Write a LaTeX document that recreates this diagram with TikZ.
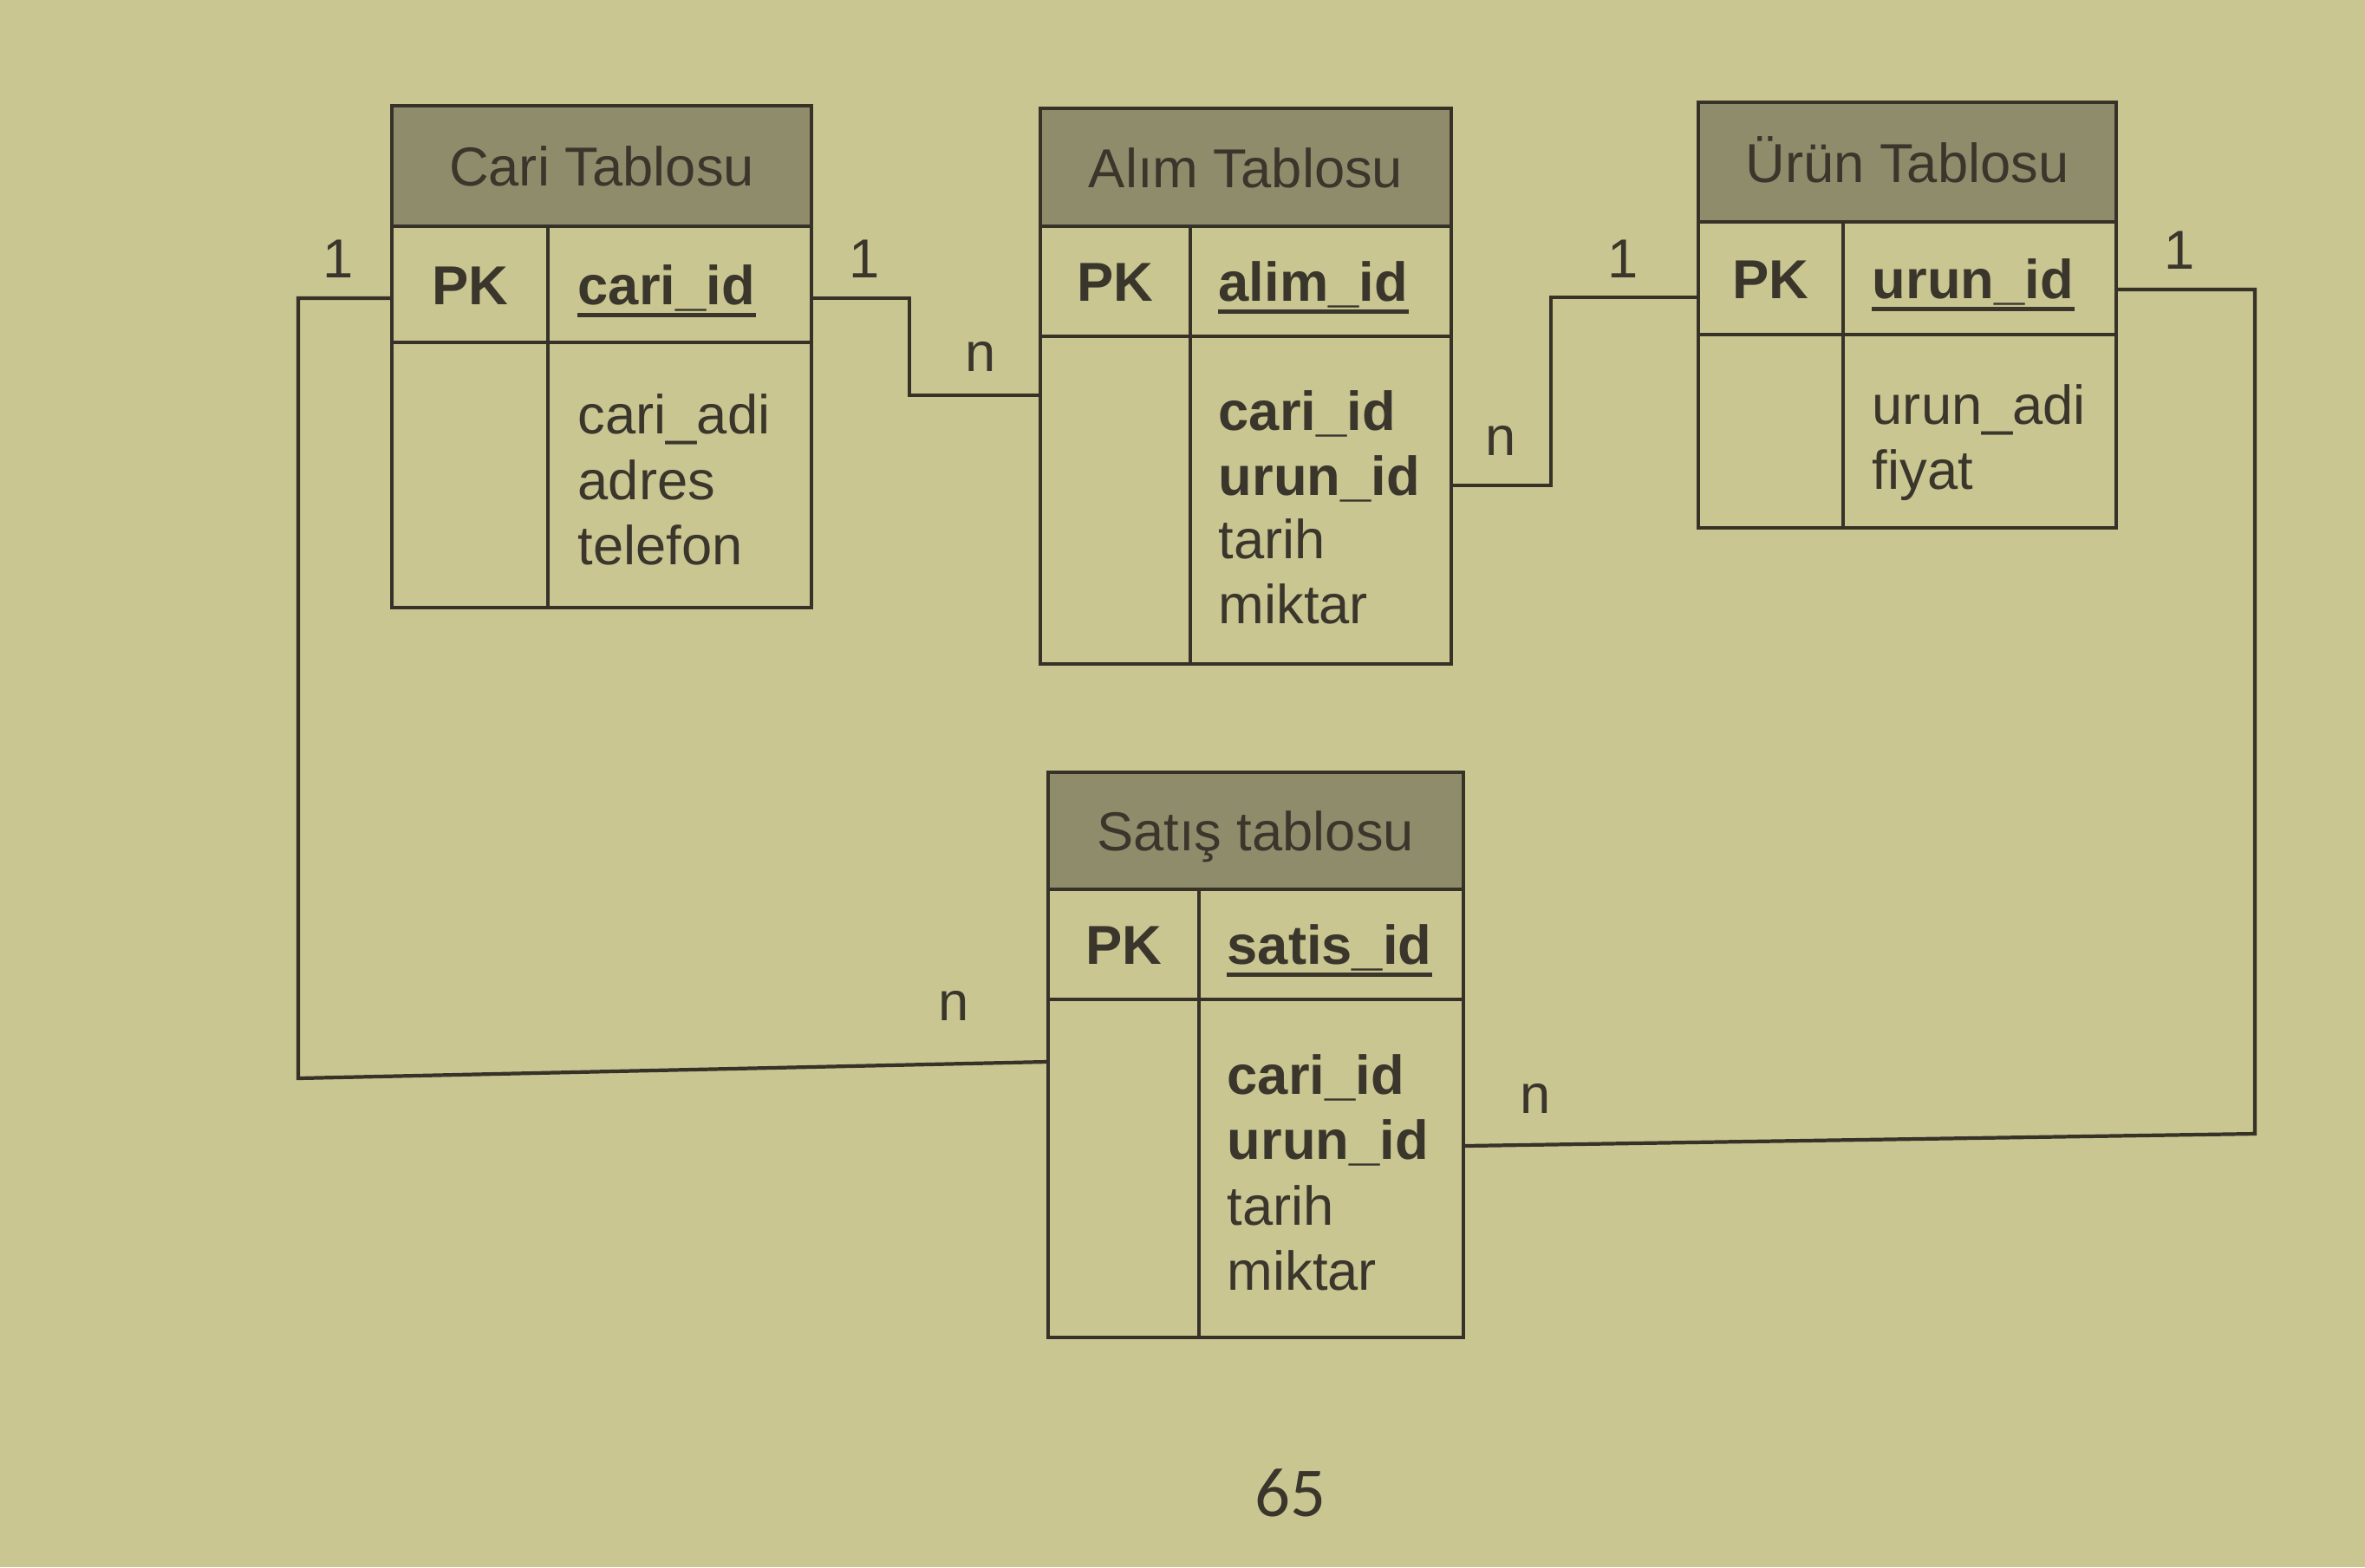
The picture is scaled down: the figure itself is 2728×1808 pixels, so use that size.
\documentclass[tikz,border=0pt]{standalone}
\usepackage{fontspec}
\setmainfont{Liberation Sans}
\newfontfamily\pagefont{Carlito}
\usetikzlibrary{fit}
\definecolor{pagebg}{RGB}{202,198,146}
\definecolor{hdrgray}{RGB}{143,140,108}
\definecolor{inkline}{RGB}{55,50,40}
\definecolor{inktext}{RGB}{58,54,44}
\tikzset{
  tblbox/.style={draw=inkline, line width=1.2pt, inner sep=0pt},
  hdrbox/.style={fill=hdrgray, inner sep=0pt},
  rule/.style={draw=inkline, line width=1.2pt},
  uline/.style={draw=inktext, line width=1.4pt},
  conn/.style={draw=inkline, line width=1.2pt},
  txt/.style={text=inktext, inner sep=0pt, font=\fontsize{18}{21}\selectfont},
  ttl/.style={txt, anchor=base},
  pkl/.style={txt, anchor=base, font=\fontsize{18}{21}\selectfont\bfseries},
  fld/.style={txt, anchor=base west},
  bfld/.style={txt, anchor=base west, font=\fontsize{18}{21}\selectfont\bfseries},
  card/.style={txt, anchor=center},
}
\begin{document}
\begin{tikzpicture}[x=0.01cm, y=-0.01cm]
\fill[pagebg] (0,0) rectangle (2728,1808);
\useasboundingbox (0,0) rectangle (2728,1808);

% ---------- Cari Tablosu ----------
\node[hdrbox, fit={(452,122)(936,261)}] (cariH) {};
\node[tblbox, fit={(452,122)(936,701)}] (cari) {};
\draw[rule] (452,261) -- (936,261);
\draw[rule] (452,395) -- (936,395);
\draw[rule] (632,261) -- (632,701);
\node[ttl] (cariT) at (694,214) {Cari Tablosu};
\node[pkl] (cariPK) at (542,351) {PK};
\node[bfld] (cariK) at (666,351) {cari\_id};
\draw[uline] ([yshift=-3.6pt]cariK.base west) -- ([yshift=-3.6pt]cariK.base east);
\node[fld] (cariF1) at (666,500) {cari\_adi};
\node[fld] (cariF2) at (666,576) {adres};
\node[fld] (cariF3) at (666,651) {telefon};

% ---------- Alım Tablosu ----------
\node[hdrbox, fit={(1200,125)(1674,261)}] (alimH) {};
\node[tblbox, fit={(1200,125)(1674,766)}] (alim) {};
\draw[rule] (1200,261) -- (1674,261);
\draw[rule] (1200,388) -- (1674,388);
\draw[rule] (1373,261) -- (1373,766);
\node[ttl] (alimT) at (1437,216) {Alım Tablosu};
\node[pkl] (alimPK) at (1286,347) {PK};
\node[bfld] (alimK) at (1405,347) {alim\_id};
\draw[uline] ([yshift=-3.6pt]alimK.base west) -- ([yshift=-3.6pt]alimK.base east);
\node[bfld] (alimF1) at (1405,496) {cari\_id};
\node[bfld] (alimF2) at (1405,571) {urun\_id};
\node[fld] (alimF3) at (1405,644) {tarih};
\node[fld] (alimF4) at (1405,719) {miktar};

% ---------- Ürün Tablosu ----------
\node[hdrbox, fit={(1959,118)(2441,256)}] (urunH) {};
\node[tblbox, fit={(1959,118)(2441,609)}] (urun) {};
\draw[rule] (1959,256) -- (2441,256);
\draw[rule] (1959,386) -- (2441,386);
\draw[rule] (2126,256) -- (2126,609);
\node[ttl] (urunT) at (2200,210) {Ürün Tablosu};
\node[pkl] (urunPK) at (2042,344) {PK};
\node[bfld] (urunK) at (2159,344) {urun\_id};
\draw[uline] ([yshift=-3.6pt]urunK.base west) -- ([yshift=-3.6pt]urunK.base east);
\node[fld] (urunF1) at (2159,489) {urun\_adi};
\node[fld] (urunF2) at (2159,564) {fiyat};

% ---------- Satış tablosu ----------
\node[hdrbox, fit={(1209,891)(1688,1026)}] (satisH) {};
\node[tblbox, fit={(1209,891)(1688,1543)}] (satis) {};
\draw[rule] (1209,1026) -- (1688,1026);
\draw[rule] (1209,1153) -- (1688,1153);
\draw[rule] (1383,1026) -- (1383,1543);
\node[ttl] (satisT) at (1448,981) {Satış tablosu};
\node[pkl] (satisPK) at (1296,1112) {PK};
\node[bfld] (satisK) at (1415,1112) {satis\_id};
\draw[uline] ([yshift=-3.6pt]satisK.base west) -- ([yshift=-3.6pt]satisK.base east);
\node[bfld] (satisF1) at (1415,1262) {cari\_id};
\node[bfld] (satisF2) at (1415,1337) {urun\_id};
\node[fld] (satisF3) at (1415,1413) {tarih};
\node[fld] (satisF4) at (1415,1488) {miktar};

% ---------- connectors ----------
\coordinate (bCA) at (1049,400);
\coordinate (bAU) at (1789,450);
\coordinate (bCS) at (344,1244);
\coordinate (bUS) at (2601,1308);
\draw[conn] (cari.east |- 0,344) -| (bCA) |- (alim.west |- 0,456);
\draw[conn] (alim.east |- 0,560) -| (bAU) |- (urun.west |- 0,343);
\draw[conn] (cari.west |- 0,344) -| (bCS) -- (satis.west |- 0,1225);
\draw[conn] (urun.east |- 0,334) -| (bUS) -- (satis.east |- 0,1322);

% ---------- cardinalities ----------
\node[card] (l1) at (997,299) {1};
\node[card] (l2) at (1131,411) {n};
\node[card] (l3) at (1731,508) {n};
\node[card] (l4) at (1872,299) {1};
\node[card] (l5) at (390,299) {1};
\node[card] (l6) at (1100,1160) {n};
\node[card] (l7) at (2514,289) {1};
\node[card] (l8) at (1771,1267) {n};

% ---------- page number ----------
\node[txt, font=\pagefont\fontsize{23}{27}\selectfont] (pageno) at (1488,1722) {65};
\end{tikzpicture}
\end{document}
